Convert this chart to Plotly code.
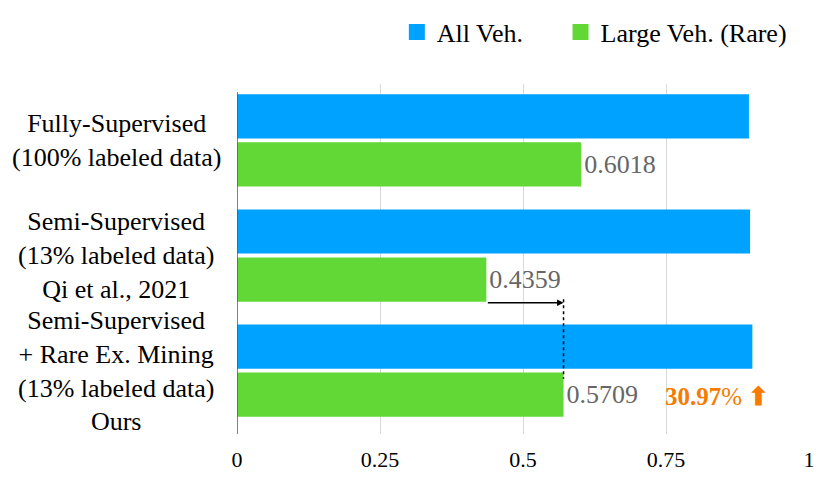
import plotly.graph_objects as go

# данные с картинки
methods = [
    "Fully-Supervised<br>(100% labeled data)",
    "Semi-Supervised<br>(13% labeled data)<br>Qi et al., 2021",
    "Semi-Supervised<br>+ Rare Ex. Mining<br>(13% labeled data)<br>Ours",
]
all_veh = [0.895, 0.897, 0.901]
large_veh = [0.6018, 0.4359, 0.5709]
x_ticks = [0, 0.25, 0.5, 0.75, 1]
x_tick_labels = ["0", "0.25", "0.5", "0.75", "1"]

BLUE = "#00A2FF"
GREEN = "#62D836"
ORANGE = "#F57C00"
FONT = "Liberation Serif, Times New Roman, Times, serif"

pos = list(range(len(methods)))

fig = go.Figure()
fig.add_trace(go.Bar(
    y=pos, x=all_veh, orientation="h", name="All Veh.",
    marker=dict(color=BLUE, line=dict(width=0)), showlegend=False,
))
fig.add_trace(go.Bar(
    y=pos, x=large_veh, orientation="h", name="Large Veh. (Rare)",
    marker=dict(color=GREEN, line=dict(width=0)), showlegend=False,
    text=[f"{v:.4f}" for v in large_veh], textposition="outside",
    outsidetextfont=dict(family=FONT, size=26, color="#666666"),
    cliponaxis=False,
))

# квадраты для легенды (пробелы — отступ между элементами)
for name, color in [("All Veh.&nbsp;&nbsp;&nbsp;&nbsp;&nbsp;", BLUE), ("Large Veh. (Rare)", GREEN)]:
    fig.add_trace(go.Scatter(
        x=[None], y=[None], mode="markers", name=name,
        marker=dict(symbol="square", size=20, color=color),
    ))

# подписи категорий по центру, как в оригинале
for p, label in zip(pos, methods):
    fig.add_annotation(
        x=-0.2115, y=p, xref="paper", yref="y", xanchor="center",
        text=label, align="center", showarrow=False,
        font=dict(family=FONT, size=26, color="black"),
    )

# стрелка прироста между второй и третьей строкой
arrow_y = 1.41
fig.add_annotation(
    x=large_veh[2], y=arrow_y, ax=large_veh[1], ay=arrow_y,
    xref="x", yref="y", axref="x", ayref="y",
    showarrow=True, arrowhead=2, arrowsize=1, arrowwidth=1.3,
    arrowcolor="black", text="",
)
fig.add_shape(
    type="line", xref="x", yref="y",
    x0=large_veh[2], x1=large_veh[2], y0=arrow_y - 0.03, y1=2.07,
    line=dict(color="black", width=1.5, dash="dot"),
)

gain = (large_veh[2] - large_veh[1]) / large_veh[1] * 100
fig.add_annotation(
    x=0.745, y=2.22, xref="x", yref="y", xanchor="left",
    text=f"<b>{gain:.2f}</b>% <b>⬆</b>", showarrow=False,
    font=dict(family=FONT, size=25, color=ORANGE),
)

# страница имеет отступ 8px, поэтому поля сдвинуты
fig.update_layout(
    width=831, height=503,
    margin=dict(l=229, r=30, t=76, b=77),
    plot_bgcolor="white", paper_bgcolor="white",
    barmode="group", bargap=0.165, bargroupgap=0.08,
    font=dict(family=FONT, size=22, color="black"),
    showlegend=True,
    legend=dict(
        orientation="h", x=0.97, xanchor="right",
        y=0.952, yref="container", yanchor="middle",
        font=dict(family=FONT, size=26, color="black"),
        bgcolor="rgba(0,0,0,0)", itemwidth=30,
    ),
    xaxis=dict(
        range=[0, 1], tickvals=x_ticks, ticktext=x_tick_labels,
        showgrid=True, gridcolor="#D9D9D9", gridwidth=1,
        zeroline=False, showline=False, ticks="", ticklabelstandoff=10,
        tickfont=dict(family=FONT, size=22, color="black"),
    ),
    yaxis=dict(
        range=[2.55, -0.49], tickvals=pos, showticklabels=False,
        showgrid=False, zeroline=False, ticks="", showline=False,
    ),
)

# левая ось — линия у нуля
fig.add_shape(
    type="line", xref="x", yref="paper", x0=0, x1=0, y0=0, y1=0.977,
    line=dict(color="#595959", width=1.5),
)

fig.write_html("out.html")
